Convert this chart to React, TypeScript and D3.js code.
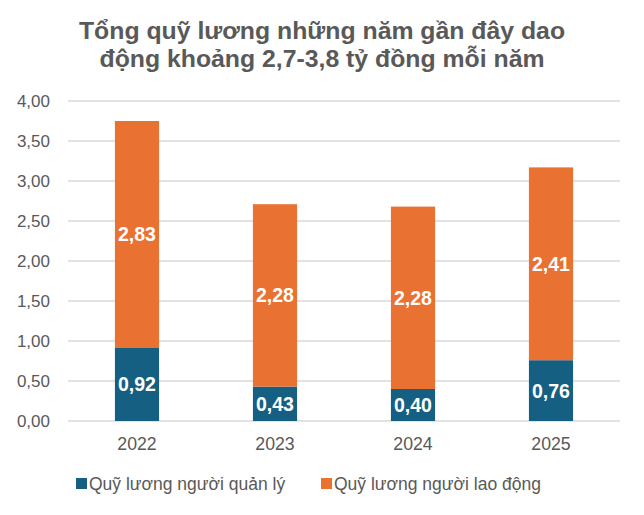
import React from "react";
import * as d3 from "d3";

const years = ["2022", "2023", "2024", "2025"];
const managerFund = [0.92, 0.43, 0.4, 0.76];
const workerFund = [2.83, 2.28, 2.28, 2.41];
const yTicks = [0, 0.5, 1, 1.5, 2, 2.5, 3, 3.5, 4];
const seriesNames = ["Quỹ lương người quản lý", "Quỹ lương người lao động"];
const titleLines = [
  "Tổng quỹ lương những năm gần đây dao",
  "động khoảng 2,7-3,8 tỷ đồng mỗi năm",
];

const colors = ["#156082", "#e97132"];
const font = "'Liberation Sans', Arial, sans-serif";
const fmt = (v: number) => v.toFixed(2).replace(".", ",");

export default function App() {
  const width = 644;
  const height = 515;

  const x = d3.scaleBand().domain(years).range([68, 620]).paddingInner(0.68).paddingOuter(0.34);
  const y = d3.scaleLinear().domain([0, 4]).range([421, 101]);

  const rows = years.map((yr, i) => ({ year: yr, manager: managerFund[i], worker: workerFund[i] }));
  const stacked = d3.stack<any>().keys(["manager", "worker"])(rows);

  return (
    <svg width={width} height={height} style={{ position: "absolute", left: 0, top: 0, background: "#fff" }}>
      <g fontFamily={font} fontWeight="bold" fontSize={24.8} fill="#595959" textAnchor="middle">
        {titleLines.map((t, i) => (
          <text key={i} x={322} y={39 + i * 28}>{t}</text>
        ))}
      </g>

      <g>
        {yTicks.map((t) => (
          <g key={t}>
            <line x1={68} x2={620} y1={y(t)} y2={y(t)} stroke="#d9d9d9" strokeWidth={1.3} />
            <text x={50} y={y(t)} dy="0.35em" textAnchor="end" fontFamily={font} fontSize={17} fill="#595959">
              {fmt(t)}
            </text>
          </g>
        ))}
      </g>

      {stacked.map((s, si) => (
        <g key={s.key} fill={colors[si]}>
          {s.map((d, i) => (
            <rect key={i} x={x(years[i])} width={x.bandwidth()} y={y(d[1])} height={y(d[0]) - y(d[1])} />
          ))}
        </g>
      ))}

      {stacked.map((s) => (
        <g key={s.key + "-lbl"} fontFamily={font} fontWeight="bold" fontSize={19.5} fill="#fff" textAnchor="middle">
          {s.map((d, i) => (
            <text key={i} x={(x(years[i]) ?? 0) + x.bandwidth() / 2} y={y((d[0] + d[1]) / 2)} dy="0.36em">
              {fmt(d[1] - d[0])}
            </text>
          ))}
        </g>
      ))}

      <g fontFamily={font} fontSize={17.7} fill="#595959" textAnchor="middle">
        {years.map((yr) => (
          <text key={yr} x={(x(yr) ?? 0) + x.bandwidth() / 2} y={450}>{yr}</text>
        ))}
      </g>

      <g fontFamily={font} fontSize={17.5} fill="#595959">
        {seriesNames.map((n, i) => {
          const lx = i === 0 ? 76 : 321;
          return (
            <g key={n}>
              <rect x={lx} y={478} width={11} height={11} fill={colors[i]} />
              <text x={lx + 13} y={490}>{n}</text>
            </g>
          );
        })}
      </g>
    </svg>
  );
}
